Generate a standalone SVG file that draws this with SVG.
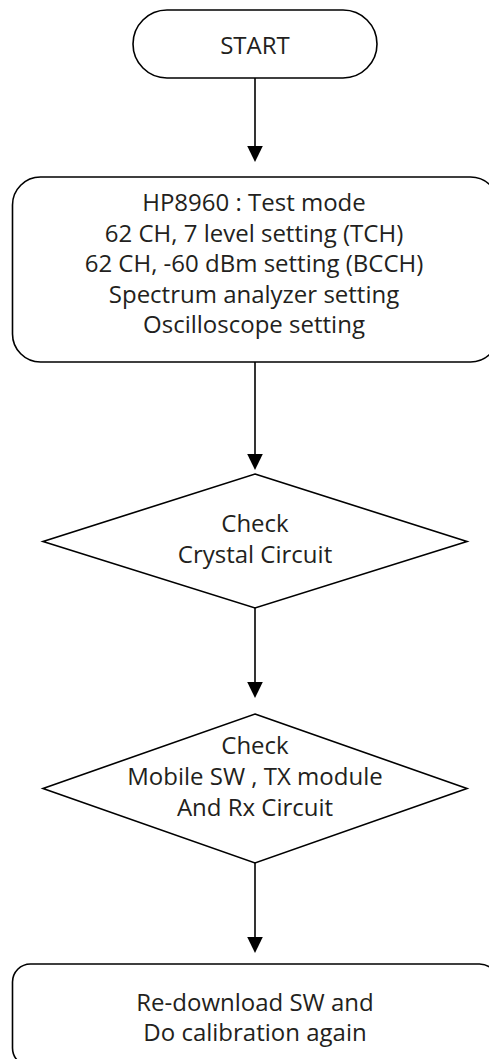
<svg xmlns="http://www.w3.org/2000/svg" width="489" height="1059" viewBox="0 0 489 1059">
<style>
.shape{fill:#ffffff;stroke:#000000;stroke-width:1.6}
.conn{stroke:#000000;stroke-width:1.6;fill:none}
.head{fill:#000000;stroke:none}
text{font-family:"Open Sans","Noto Sans","DejaVu Sans",sans-serif;font-size:24px;fill:#231f20;text-anchor:middle}
</style>
<rect width="489" height="1059" fill="#ffffff"/>
<g id="start">
<rect class="shape" x="133" y="10" width="244" height="68" rx="34" ry="34"/>
<text x="255" y="54">START</text>
</g>
<g id="setup">
<rect class="shape" x="12.5" y="177" width="486" height="185" rx="28" ry="28"/>
<text x="254" y="211">HP8960 : Test mode</text>
<text x="254" y="241.5">62 CH, 7 level setting (TCH)</text>
<text x="254" y="272">62 CH, -60 dBm setting (BCCH)</text>
<text x="254" y="302.5">Spectrum analyzer setting</text>
<text x="254" y="333">Oscilloscope setting</text>
</g>
<g id="check-crystal">
<polygon class="shape" points="255,474 467,541.5 255,608 43,541.5"/>
<text x="255" y="532">Check</text>
<text x="255" y="563">Crystal Circuit</text>
</g>
<g id="check-mobile">
<polygon class="shape" points="255,714 467,788.5 255,863 43,788.5"/>
<text x="255" y="754">Check</text>
<text x="255" y="785">Mobile SW , TX module</text>
<text x="255" y="816">And Rx Circuit</text>
</g>
<g id="redownload">
<rect class="shape" x="12.5" y="964" width="485" height="102" rx="18" ry="18"/>
<text x="255" y="1011">Re-download SW and</text>
<text x="255" y="1041">Do calibration again</text>
</g>
<g id="connectors">
<line class="conn" x1="255" y1="78" x2="255" y2="148"/>
<polygon class="head" points="247.2,146 262.8,146 255,162"/>
<line class="conn" x1="255" y1="362" x2="255" y2="456"/>
<polygon class="head" points="247.2,454 262.8,454 255,470"/>
<line class="conn" x1="255" y1="608" x2="255" y2="684"/>
<polygon class="head" points="247.2,682 262.8,682 255,698"/>
<line class="conn" x1="255" y1="863" x2="255" y2="939"/>
<polygon class="head" points="247.2,937 262.8,937 255,953"/>
</g>
</svg>
